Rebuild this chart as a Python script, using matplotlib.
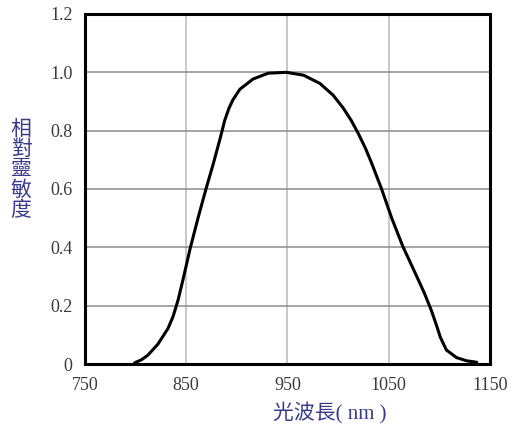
import matplotlib
matplotlib.use("Agg")
import matplotlib.pyplot as plt

# relative sensitivity vs wavelength
wavelength = [799, 806, 812, 822, 832, 837, 842, 847, 854, 862, 869.5, 877, 884,
              888, 892, 896, 903, 916, 931, 949, 966, 982, 995, 1005, 1013,
              1020, 1027, 1033, 1043, 1053, 1064, 1077.5, 1085, 1092, 1097,
              1101, 1107, 1117, 1127, 1137]
sensitivity = [0.004, 0.015, 0.03, 0.068, 0.122, 0.163, 0.22, 0.292, 0.398,
               0.505, 0.6, 0.69, 0.78, 0.835, 0.875, 0.905, 0.942, 0.977,
               0.997, 1.0, 0.99, 0.962, 0.922, 0.878, 0.835, 0.79, 0.74, 0.69,
               0.6, 0.5, 0.403, 0.302, 0.245, 0.185, 0.135, 0.092, 0.048,
               0.022, 0.011, 0.006]

x_ticks = [750, 850, 950, 1050, 1150]
y_ticks = [0, 0.2, 0.4, 0.6, 0.8, 1.0, 1.2]
y_tick_labels = ["0", "0.2", "0.4", "0.6", "0.8", "1.0", "1.2"]

fig = plt.figure(figsize=(5.13, 4.29), dpi=100)
ax = fig.add_axes([0.1657, 0.1515, 0.7893, 0.8159])

# grid: faint verticals, darker horizontals
for xv in x_ticks[1:-1]:
    ax.axvline(xv, color="#c4c4c4", linewidth=1.3, zorder=1)
for yv in y_ticks[1:-1]:
    ax.axhline(yv, color="#8a8a8a", linewidth=1.1, zorder=1)

ax.plot(wavelength, sensitivity, color="black", linewidth=2.2,
        solid_capstyle="round", solid_joinstyle="round", zorder=3)

ax.set_xlim(750, 1150)
ax.set_ylim(0, 1.2)
ax.set_xticks(x_ticks)
ax.set_yticks(y_ticks)
ax.set_yticklabels(y_tick_labels)
ax.tick_params(length=0, labelsize=13, labelcolor="#3a3a3a")
ax.tick_params(axis="x", pad=9)
ax.tick_params(axis="y", pad=9)
for lab in ax.get_xticklabels() + ax.get_yticklabels():
    lab.set_family("Liberation Serif")

for sp in ax.spines.values():
    sp.set_linewidth(2.2)
    sp.set_color("black")

cjk = ["Liberation Serif", "Noto Sans CJK TC"]
fig.text(0.041, 0.601, "相\n對\n靈\n敏\n度", ha="center", va="center",
         fontsize=15, color="#3b3b8c", family=cjk, linespacing=1.07)
fig.text(0.643, 0.037, "光波長( nm )", ha="center", va="center",
         fontsize=15, color="#3b3b8c", family=cjk)

fig.savefig("out.png", dpi=100)
